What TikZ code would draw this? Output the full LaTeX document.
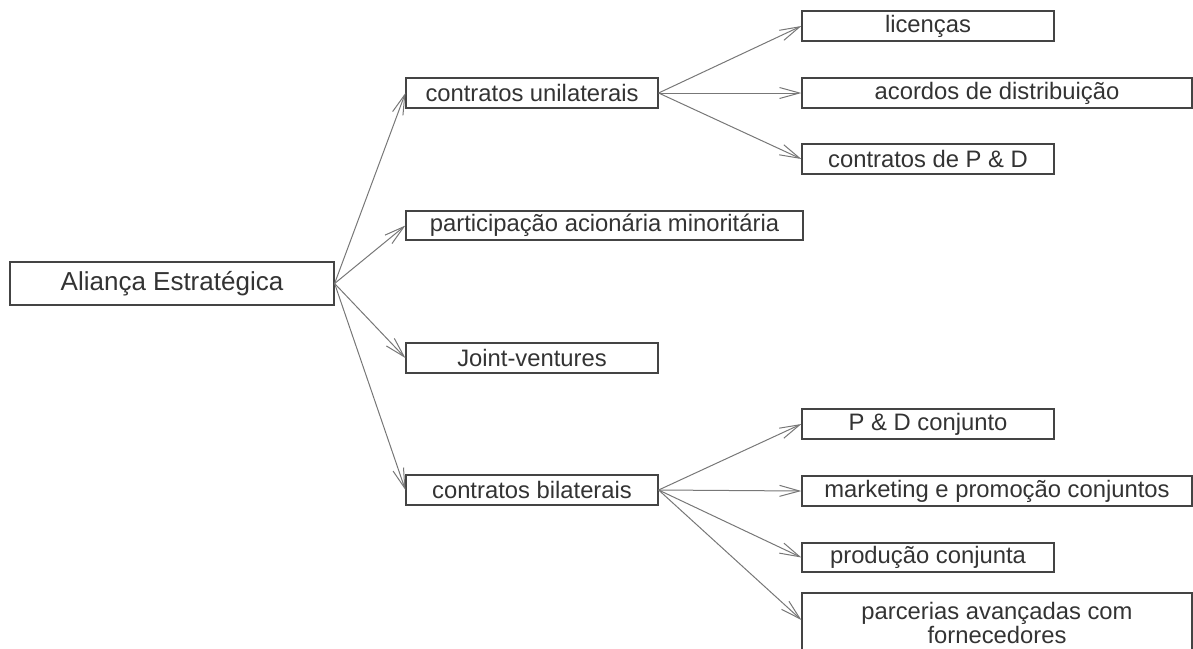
\documentclass[tikz,border=0pt]{standalone}
\usepackage{fontspec}
\setmainfont{Liberation Sans}
\usetikzlibrary{arrows.meta}
\definecolor{boxline}{HTML}{444444}
\definecolor{arrline}{HTML}{777777}
\definecolor{txt}{HTML}{333333}
\begin{document}
\begin{tikzpicture}[x=1pt,y=-1pt,
  box/.style={draw=boxline, line width=1.2pt, rectangle, inner sep=0pt, text=txt,
    minimum height=30pt, font=\fontsize{23.8}{26}\selectfont, align=center},
  rootbox/.style={box, minimum height=43pt, minimum width=324pt, font=\fontsize{26}{28}\selectfont},
  arr/.style={draw=arrline, line width=1pt, -{Straight Barb[length=20pt,width=11pt,line width=1pt]}}
]
\useasboundingbox (0,0) rectangle (1193,648);
\node[rootbox] (root) at (172,283.5) {Aliança Estratégica};
\node[box, minimum width=252pt] (cu) at (532,93) {contratos unilaterais};
\node[box, minimum width=397pt, minimum height=29pt] (pam) at (604.5,225.5) {participação acionária minoritária};
\node[box, minimum width=252pt] (jv) at (532,358) {Joint-ventures};
\node[box, minimum width=252pt] (cb) at (532,490) {contratos bilaterais};
\node[box, minimum width=252pt] (lic) at (928,26) {licenças};
\node[box, minimum width=390pt] (acd) at (997,93) {acordos de distribuição};
\node[box, minimum width=252pt] (cpd) at (928,159) {contratos de P \& D};
\node[box, minimum width=252pt] (pdc) at (928,424) {P \& D conjunto};
\node[box, minimum width=390pt] (mkt) at (997,491) {marketing e promoção conjuntos};
\node[box, minimum width=252pt, minimum height=29pt] (prc) at (928,557.5) {produção conjunta};
\node[box, minimum width=390pt, minimum height=60pt, font=\fontsize{23.8}{23.5}\selectfont] (par) at (997,623) {parcerias avançadas com\\fornecedores};
\foreach \t in {cu,pam,jv,cb} \draw[arr] (root.east) -- (\t.west);
\foreach \t in {lic,acd,cpd} \draw[arr] (cu.east) -- (\t.west);
\foreach \t in {pdc,mkt,prc} \draw[arr] (cb.east) -- (\t.west);
\draw[arr] (cb.east) -- (par.west |- 0,620);
\end{tikzpicture}
\end{document}
